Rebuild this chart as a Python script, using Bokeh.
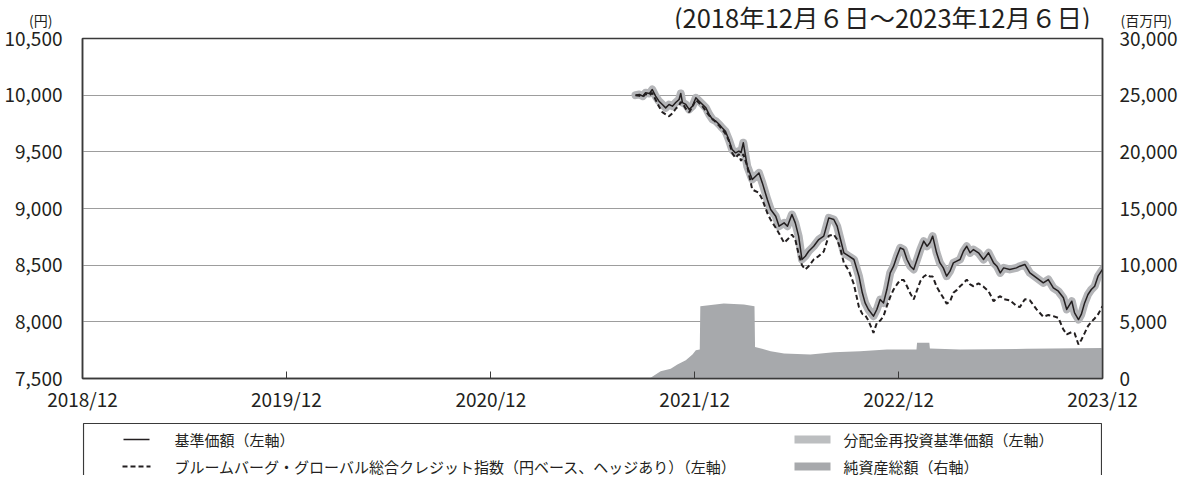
import pandas as pd
from bokeh.plotting import figure
from bokeh.models import (Range1d, LinearAxis, FixedTicker, NumeralTickFormatter,
                          DatetimeTickFormatter)
from bokeh.layouts import column
from bokeh.embed import file_html
from bokeh.resources import INLINE
from bokeh.core.properties import value

FONT = "Noto Sans CJK JP"

# ---------------- data ----------------
nav_dates = [
    "2021-08-22", "2021-08-29", "2021-09-04", "2021-09-09", "2021-09-16", "2021-09-21", "2021-09-27",
    "2021-10-03", "2021-10-09", "2021-10-15", "2021-10-21", "2021-10-27", "2021-11-02", "2021-11-08",
    "2021-11-11", "2021-11-14", "2021-11-20", "2021-11-26", "2021-12-02", "2021-12-08", "2021-12-14",
    "2021-12-20", "2021-12-26", "2022-01-01", "2022-01-07", "2022-01-13", "2022-01-19", "2022-01-24",
    "2022-01-30", "2022-02-05", "2022-02-11", "2022-02-17", "2022-02-23", "2022-02-27", "2022-03-03",
    "2022-03-10", "2022-03-19", "2022-03-31", "2022-04-06", "2022-04-15", "2022-04-21", "2022-04-30",
    "2022-05-06", "2022-05-15", "2022-05-21", "2022-05-29", "2022-06-04", "2022-06-10", "2022-06-16",
    "2022-06-22", "2022-06-28", "2022-07-07", "2022-07-16", "2022-07-25", "2022-08-03", "2022-08-12",
    "2022-08-18", "2022-08-24", "2022-08-30", "2022-09-08", "2022-09-17", "2022-09-26", "2022-10-02",
    "2022-10-07", "2022-10-13", "2022-10-22", "2022-10-28", "2022-11-03", "2022-11-09", "2022-11-15",
    "2022-11-21", "2022-11-27", "2022-12-03", "2022-12-09", "2022-12-15", "2022-12-21", "2022-12-27",
    "2023-01-02", "2023-01-08", "2023-01-14", "2023-01-20", "2023-01-26", "2023-01-31", "2023-02-05",
    "2023-02-12", "2023-02-18", "2023-02-24", "2023-03-02", "2023-03-08", "2023-03-14", "2023-03-20",
    "2023-03-26", "2023-04-01", "2023-04-07", "2023-04-13", "2023-04-19", "2023-04-28", "2023-05-07",
    "2023-05-16", "2023-05-25", "2023-05-31", "2023-06-06", "2023-06-12", "2023-06-23", "2023-07-05",
    "2023-07-11", "2023-07-20", "2023-07-29", "2023-08-10", "2023-08-22", "2023-08-31", "2023-09-09",
    "2023-09-18", "2023-09-27", "2023-10-03", "2023-10-12", "2023-10-17", "2023-10-24", "2023-10-29",
    "2023-11-04", "2023-11-10", "2023-11-16", "2023-11-22", "2023-11-28", "2023-12-06",
]
nav_values = [
    10000, 10006, 9991, 10021, 10015, 10050, 9991, 9947, 9918, 9888, 9918, 9903, 9935, 9962,
    10015, 9935, 9918, 9874, 9903, 9977, 9947, 9918, 9888, 9829, 9785, 9770, 9741, 9712,
    9682, 9609, 9520, 9491, 9506, 9494, 9580, 9373, 9256, 9314, 9226, 9079, 8991, 8932,
    8844, 8873, 8844, 8947, 8873, 8756, 8550, 8579, 8623, 8667, 8726, 8756, 8917, 8903,
    8844, 8726, 8609, 8579, 8550, 8403, 8256, 8167, 8109, 8050, 8109, 8197, 8167, 8285,
    8432, 8491, 8579, 8653, 8638, 8550, 8491, 8462, 8550, 8638, 8712, 8667, 8697, 8756,
    8609, 8520, 8476, 8403, 8447, 8520, 8535, 8550, 8623, 8667, 8609, 8638, 8609, 8550,
    8609, 8520, 8491, 8432, 8476, 8462, 8476, 8491, 8506, 8432, 8388, 8344, 8373, 8300,
    8270, 8212, 8109, 8182, 8079, 8020, 8065, 8167, 8241, 8285, 8314, 8403, 8462,
]
# distribution-reinvested NAV (no distributions: same path as NAV)
reinv_values = list(nav_values)
bench_values = [
    10000, 9995, 9985, 10010, 10000, 10020, 9960, 9900, 9850, 9830, 9814, 9840, 9880, 9910,
    9940, 9930, 9880, 9850, 9900, 9960, 9930, 9900, 9860, 9820, 9790, 9760, 9730, 9700,
    9660, 9600, 9490, 9447, 9480, 9420, 9480, 9373, 9167, 9138, 9080, 8960, 8900, 8830,
    8780, 8697, 8726, 8770, 8726, 8600, 8500, 8462, 8491, 8550, 8580, 8620, 8760, 8770,
    8726, 8640, 8520, 8450, 8330, 8130, 8070, 8060, 8010, 7903, 7990, 8010, 8050, 8140,
    8220, 8285, 8330, 8370, 8370, 8314, 8250, 8197, 8280, 8360, 8400, 8418, 8400, 8400,
    8310, 8260, 8212, 8160, 8180, 8256, 8280, 8314, 8340, 8373, 8330, 8314, 8340, 8310,
    8270, 8182, 8210, 8226, 8200, 8190, 8140, 8130, 8200, 8190, 8110, 8045, 8060, 8050,
    8035, 7932, 7890, 7910, 7900, 7800, 7840, 7900, 7962, 8000, 8030, 8065, 8138,
]
asset_dates = [
    "2021-09-16", "2021-10-06", "2021-10-24", "2021-11-05", "2021-11-20", "2021-12-02", "2021-12-08",
    "2021-12-15", "2021-12-16", "2022-01-27", "2022-03-04", "2022-03-23", "2022-03-24", "2022-04-21",
    "2022-05-15", "2022-07-01", "2022-08-12", "2022-09-28", "2022-11-15", "2023-01-07", "2023-01-08",
    "2023-01-30", "2023-01-31", "2023-03-26", "2023-07-23", "2023-12-06",
]
asset_values = [
    0, 650, 850, 1235, 1620, 2120, 2500, 2560, 6380, 6620, 6530, 6380, 2790, 2410,
    2200, 2120, 2325, 2410, 2560, 2560, 3150, 3150, 2650, 2560, 2620, 2700,
]
x_tick_dates = ["2018-12-06", "2019-12-06", "2020-12-06", "2021-12-06", "2022-12-06", "2023-12-06"]
left_ticks = [7500, 8000, 8500, 9000, 9500, 10000, 10500]
right_ticks = [0, 5000, 10000, 15000, 20000, 25000, 30000]

title_text = "(2018年12月６日～2023年12月６日)"
left_unit = "(円)"
right_unit = "(百万円)"
legend_labels = ["基準価額（左軸）",
                 "ブルームバーグ・グローバル総合クレジット指数（円ベース、ヘッジあり）（左軸）",
                 "分配金再投資基準価額（左軸）",
                 "純資産総額（右軸）"]

INK = "#231f20"
BORDER = "#3a3a3a"
FW = 1020                # frame width shared by all panels
BL = 82                  # left border shared by all panels
FL, FR = 85, 1105        # page x of the frame edges (px coordinates for header / legend)

def strip_axis(ax):
    ax.axis_line_color = None
    ax.major_tick_line_color = None
    ax.minor_tick_line_color = None
    ax.major_tick_out = 0
    ax.major_tick_in = 0

# ---------------- header strip (title + units) ----------------
HT, HB = 1, 30           # page y of header top / bottom
hd = figure(frame_width=FW, frame_height=HB - HT, x_range=Range1d(FL, FR), y_range=Range1d(HB, HT),
            min_border_left=BL, min_border_right=0, min_border_top=0, min_border_bottom=0,
            x_axis_location=None, y_axis_location="left",
            toolbar_location=None, output_backend="svg")
hd.grid.visible = False
hd.outline_line_color = None
hl = hd.yaxis[0]
strip_axis(hl)
hl.ticker = FixedTicker(ticks=[20])
hl.major_label_overrides = {20: left_unit}
hl.major_label_standoff = 30
hl.major_label_text_font = FONT
hl.major_label_text_font_size = "14px"
hl.major_label_text_color = INK
hr = LinearAxis(ticker=FixedTicker(ticks=[20]))
strip_axis(hr)
hr.major_label_overrides = {20: right_unit}
hr.major_label_standoff = 18
hr.major_label_text_font = FONT
hr.major_label_text_font_size = "14px"
hr.major_label_text_color = INK
hd.add_layout(hr, "right")
hd.text(x=[1093], y=[16.5], text=[title_text], text_align="right", text_baseline="middle",
        text_font=value(FONT), text_font_size="25.5px", text_color=INK)

# ---------------- main chart ----------------
nav_x = pd.to_datetime(nav_dates)
asset_x = pd.to_datetime(asset_dates)
x0 = pd.Timestamp("2018-12-06")
x1 = pd.Timestamp("2023-12-06")

MT, MB = 9, 38
p = figure(x_axis_type="datetime", frame_width=FW, frame_height=340,
           x_range=Range1d(x0, x1), y_range=Range1d(7500, 10500),
           min_border_left=BL, min_border_right=0, min_border_top=MT, min_border_bottom=MB,
           toolbar_location=None, output_backend="svg")
p.extra_y_ranges = {"assets": Range1d(0, 30000)}

p.outline_line_color = BORDER
p.outline_line_width = 1.5

p.xgrid.grid_line_color = None
p.ygrid.ticker = FixedTicker(ticks=left_ticks)
p.ygrid.grid_line_color = "#9d9d9d"
p.ygrid.grid_line_width = 1

xa = p.xaxis[0]
xa.ticker = FixedTicker(ticks=[pd.Timestamp(d).value / 1e6 for d in x_tick_dates])
fmt = "%Y/%m"
xa.formatter = DatetimeTickFormatter(microseconds=fmt, milliseconds=fmt, seconds=fmt, minsec=fmt,
                                     minutes=fmt, hourmin=fmt, hours=fmt, days=fmt, months=fmt,
                                     years=fmt)
xa.major_tick_in = 7
xa.major_tick_out = 0
xa.major_tick_line_color = BORDER
xa.minor_tick_line_color = None
xa.axis_line_color = BORDER
xa.axis_line_width = 1.5
xa.major_label_standoff = 6
xa.major_label_text_font = FONT
xa.major_label_text_font_size = "19px"
xa.major_label_text_color = INK

ya = p.yaxis[0]
ya.ticker = FixedTicker(ticks=left_ticks)
ya.formatter = NumeralTickFormatter(format="0,0")
ya.major_tick_line_color = None
ya.minor_tick_line_color = None
ya.major_tick_out = 0
ya.major_tick_in = 0
ya.axis_line_color = BORDER
ya.axis_line_width = 1.5
ya.major_label_standoff = 20
ya.major_label_text_font = FONT
ya.major_label_text_font_size = "19px"
ya.major_label_text_color = INK

ra = LinearAxis(y_range_name="assets", ticker=FixedTicker(ticks=right_ticks),
                formatter=NumeralTickFormatter(format="0,0"))
ra.major_tick_line_color = None
ra.minor_tick_line_color = None
ra.major_tick_out = 0
ra.major_tick_in = 0
ra.axis_line_color = BORDER
ra.axis_line_width = 1.5
ra.major_label_standoff = 17
ra.major_label_text_font = FONT
ra.major_label_text_font_size = "19px"
ra.major_label_text_color = INK
p.add_layout(ra, "right")

p.varea(x=asset_x, y1=0, y2=asset_values, y_range_name="assets", fill_color="#a7a9ac")
p.line(x=nav_x, y=reinv_values, line_color="#b4b5b8", line_width=8, line_join="round", line_cap="round")
p.line(x=nav_x, y=bench_values, line_color=INK, line_width=2, line_dash="5 3")
p.line(x=nav_x, y=nav_values, line_color=INK, line_width=1.5, line_join="round")

# ---------------- legend panel ----------------
LT = HB + MT + 340 + MB   # page y of legend top
LB = 476
lf = figure(frame_width=FW, frame_height=LB - LT, x_range=Range1d(FL, FR), y_range=Range1d(LB, LT),
            min_border_left=BL, min_border_right=0, min_border_top=0, min_border_bottom=0,
            x_axis_location=None, y_axis_location=None,
            toolbar_location=None, output_backend="svg")
lf.grid.visible = False
lf.outline_line_color = None

r1, r2 = 440, 467
lf.quad(left=[86], right=[1104], top=[424], bottom=[LB + 20], fill_color=None,
        line_color=BORDER, line_width=1.2)
lf.line(x=[126, 152], y=[r1, r1], line_color=INK, line_width=1.5)
lf.line(x=[125, 153], y=[r2, r2], line_color=INK, line_width=2, line_dash="5 3")
lf.quad(left=[797], right=[833], top=[r1 - 4], bottom=[r1 + 4], fill_color="#bcbec0", line_color=None)
lf.quad(left=[797], right=[833], top=[r2 - 4], bottom=[r2 + 4], fill_color="#a7a9ac", line_color=None)
lf.text(x=[177, 177, 846, 846], y=[r1, r2, r1, r2], text=legend_labels,
        text_font=value(FONT), text_font_size="15px", text_baseline="middle", text_color=INK)

layout = column(hd, p, lf, spacing=0)
open("out.html", "w").write(file_html(layout, INLINE))
